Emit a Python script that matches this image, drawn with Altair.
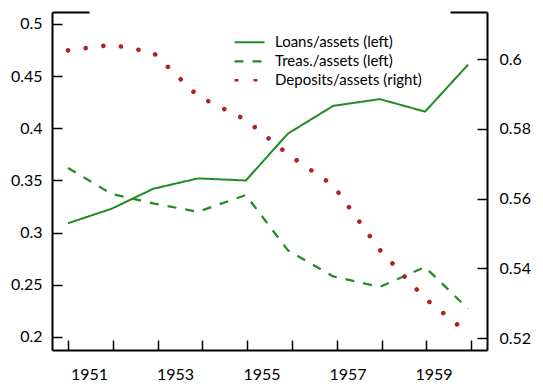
import altair as alt
import pandas as pd

# ---- data ----
series_names = ["Loans/assets (left)", "Treas./assets (left)", "Deposits/assets (right)"]
dates = [1951.0, 1951.98, 1952.90, 1953.90, 1954.97, 1955.91, 1956.92, 1957.96, 1958.97, 1959.93]
loans = [0.309, 0.323, 0.342, 0.352, 0.350, 0.395, 0.4215, 0.428, 0.416, 0.461]
treas = [0.362, 0.337, 0.328, 0.320, 0.336, 0.283, 0.258, 0.248, 0.267, 0.227]
deposits = [0.6025, 0.6041, 0.6019, 0.5894, 0.5826, 0.5727, 0.5638, 0.5453, 0.5314, 0.5214]

tick_years = [1951, 1952, 1953, 1954, 1955, 1956, 1957, 1958, 1959, 1960]
label_pos = [1951.47, 1953.39, 1955.32, 1957.24, 1959.16]
left_ticks = [0.2, 0.25, 0.3, 0.35, 0.4, 0.45, 0.5]
right_ticks = [0.52, 0.54, 0.56, 0.58, 0.6]

GREEN = "#228B22"
RED = "#B22222"
FONT = "Lato"
W, H = 435, 338
TICK = 10

L_DOM = [0.1875, 0.5115]
R_DOM = [0.5166, 0.6135]

df_loans = pd.DataFrame({"date": dates, "value": loans, "series": series_names[0]})
df_treas = pd.DataFrame({"date": dates, "value": treas, "series": series_names[1]})
df_dep = pd.DataFrame({"date": dates, "value": deposits, "series": series_names[2]})

xscale = alt.Scale(domain=[1950.643, 1960.353], nice=False, zero=False)
lscale = alt.Scale(domain=L_DOM, nice=False, zero=False)
rscale = alt.Scale(domain=R_DOM, nice=False, zero=False)

# right-hand tick values expressed on the left scale (same vertical positions)
right_ticks_on_left = [
    L_DOM[0] + (v - R_DOM[0]) / (R_DOM[1] - R_DOM[0]) * (L_DOM[1] - L_DOM[0]) for v in right_ticks
]

legend = alt.Legend(
    orient="none", legendX=181, legendY=21, title=None, padding=0,
    symbolType="stroke", symbolSize=900, labelFontSize=15, labelFont=FONT,
    labelColor="black", labelOffset=9, rowPadding=0, clipHeight=18.7,
)
color = alt.Color("series:N", scale=alt.Scale(domain=series_names, range=[GREEN, GREEN, RED]), legend=legend)
dash = alt.StrokeDash("series:N", scale=alt.Scale(domain=series_names, range=[[1, 0], [9, 9], [4, 15]]), legend=legend)
width_enc = alt.StrokeWidth("series:N", scale=alt.Scale(domain=series_names, range=[2, 2.5, 4.5]), legend=legend)

def grid(dash_pattern):
    return dict(grid=True, gridDash=dash_pattern, gridColor="black", gridWidth=1.5, gridOpacity=1)

# inward ticks drawn as short grid segments at the axis end of each grid line
x_ticks_axis = alt.Axis(orient="bottom", values=tick_years, labels=False, ticks=False, tickSize=0,
                        domain=True, domainColor="black", domainWidth=2, title=None,
                        **grid([0, H - TICK, TICK, 2000]))
x_top_axis = alt.Axis(orient="top", labels=False, ticks=False, tickSize=0, grid=False,
                      domain=True, domainColor="black", domainWidth=2, domainDash=[37, 361], title=None)
x_label_axis = alt.Axis(orient="bottom", values=label_pos, labelExpr="floor(datum.value) + ''",
                        ticks=False, tickSize=0, grid=False, domain=False, title=None,
                        labelPadding=16, labelFontSize=16, labelFont=FONT, labelColor="black")

y_left_axis = alt.Axis(orient="left", values=left_ticks, format="~g", ticks=False, tickSize=0,
                       domain=True, domainColor="black", domainWidth=2, title=None,
                       labelPadding=10, labelFontSize=16, labelFont=FONT, labelColor="black",
                       **grid([TICK, 2000]))
# second left-scale axis: only grid segments at the far (right) end, at the right-hand tick heights
y_right_tick_axis = alt.Axis(orient="left", values=right_ticks_on_left, labels=False, ticks=False,
                             tickSize=0, domain=False, title=None,
                             **grid([0, W - TICK, TICK, 2000]))
y_right_axis = alt.Axis(orient="right", values=right_ticks, format="~g", ticks=False, tickSize=0,
                        domain=True, domainColor="black", domainWidth=2, title=None, grid=False,
                        labelPadding=12, labelFontSize=16, labelFont=FONT, labelColor="black")

loans_layer = alt.Chart(df_loans).mark_line(strokeJoin="round").encode(
    x=alt.X("date:Q", scale=xscale, axis=x_ticks_axis),
    y=alt.Y("value:Q", scale=lscale, axis=y_left_axis),
    color=color, strokeDash=dash, strokeWidth=width_enc,
)
treas_layer = alt.Chart(df_treas).mark_line(strokeJoin="round").encode(
    x=alt.X("date:Q", scale=xscale, axis=x_top_axis),
    y=alt.Y("value:Q", scale=lscale, axis=y_right_tick_axis),
    color=color, strokeDash=dash, strokeWidth=width_enc,
)
dep_layer = alt.Chart(df_dep).mark_line(strokeCap="round", strokeDash=[0.01, 17.8], strokeWidth=4.6).encode(
    x=alt.X("date:Q", scale=xscale, axis=x_label_axis),
    y=alt.Y("value:Q", scale=rscale, axis=y_right_axis),
    color=color,
)

chart = (
    alt.layer(loans_layer, treas_layer, dep_layer)
    .resolve_scale(y="independent")
    .resolve_axis(x="independent")
    .properties(
        width=W, height=H,
        autosize=alt.AutoSizeParams(type="none"),
        padding={"left": 44, "top": 4, "right": 48, "bottom": 32},
    )
    .configure_view(stroke=None)
)

chart.save("out.html", embed_options={"renderer": "svg", "actions": False})
